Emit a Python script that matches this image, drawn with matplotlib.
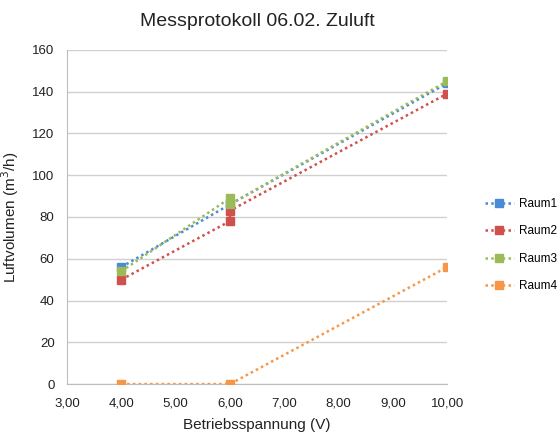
import matplotlib
matplotlib.use("Agg")
import matplotlib.pyplot as plt
from matplotlib.ticker import FuncFormatter

plt.rcParams['font.family'] = ['Liberation Sans', 'DejaVu Sans']

# Messwerte (Spannung in V, Luftvolumen in m3/h)
raum1_x = [4, 6, 10]
raum1_y = [56, 86, 144]
raum2_x = [4, 6, 6, 10]
raum2_y = [50, 78, 83, 139]
raum3_x = [4, 6, 6, 10]
raum3_y = [54, 89, 86, 145]
raum4_x = [4, 6, 10]
raum4_y = [0, 0, 56]

series = [
    ("Raum1", raum1_x, raum1_y, "#4A8BD3"),
    ("Raum2", raum2_x, raum2_y, "#D0504D"),
    ("Raum3", raum3_x, raum3_y, "#9BBB59"),
    ("Raum4", raum4_x, raum4_y, "#F79646"),
]

fig = plt.figure(figsize=(5.59, 4.33), dpi=100)
ax = fig.add_axes([0.12, 0.113, 0.68, 0.772])

for name, xs, ys, col in series:
    ax.plot(xs, ys, linestyle=(0, (1, 1.3)), linewidth=1.8, color=col,
            marker="s", markersize=5.5, label=name, zorder=3)

ax.set_xlim(3, 10)
ax.set_ylim(0, 160)
ax.set_xticks(range(3, 11))
ax.set_yticks(range(0, 161, 20))
ax.xaxis.set_major_formatter(FuncFormatter(lambda v, p: f"{v:.2f}".replace(".", ",")))
ax.yaxis.grid(True, color="#d0d0d0", linewidth=1)
ax.set_axisbelow(True)
for s in ["top", "right"]:
    ax.spines[s].set_visible(False)
for s in ["left", "bottom"]:
    ax.spines[s].set_color("#bdbdbd")
ax.tick_params(length=0, labelsize=9.5, colors="#222222")
ax.tick_params(axis="x", pad=10)
ax.tick_params(axis="y", pad=9)

ax.set_title("Messprotokoll 06.02. Zuluft", fontsize=14, pad=17, color="#222222")
ax.set_xlabel("Betriebsspannung (V)", fontsize=11, labelpad=6, color="#222222")
ax.set_ylabel("Luftvolumen (m$^3$/h)", fontsize=11, labelpad=8, color="#222222")

ax.legend(loc="center left", bbox_to_anchor=(1.1, 0.416), frameon=False,
          fontsize=8.5, handlelength=2.4, handletextpad=0.5, labelspacing=1.3,
          borderaxespad=0, borderpad=0)

fig.savefig("out.png", dpi=100, facecolor="white")
